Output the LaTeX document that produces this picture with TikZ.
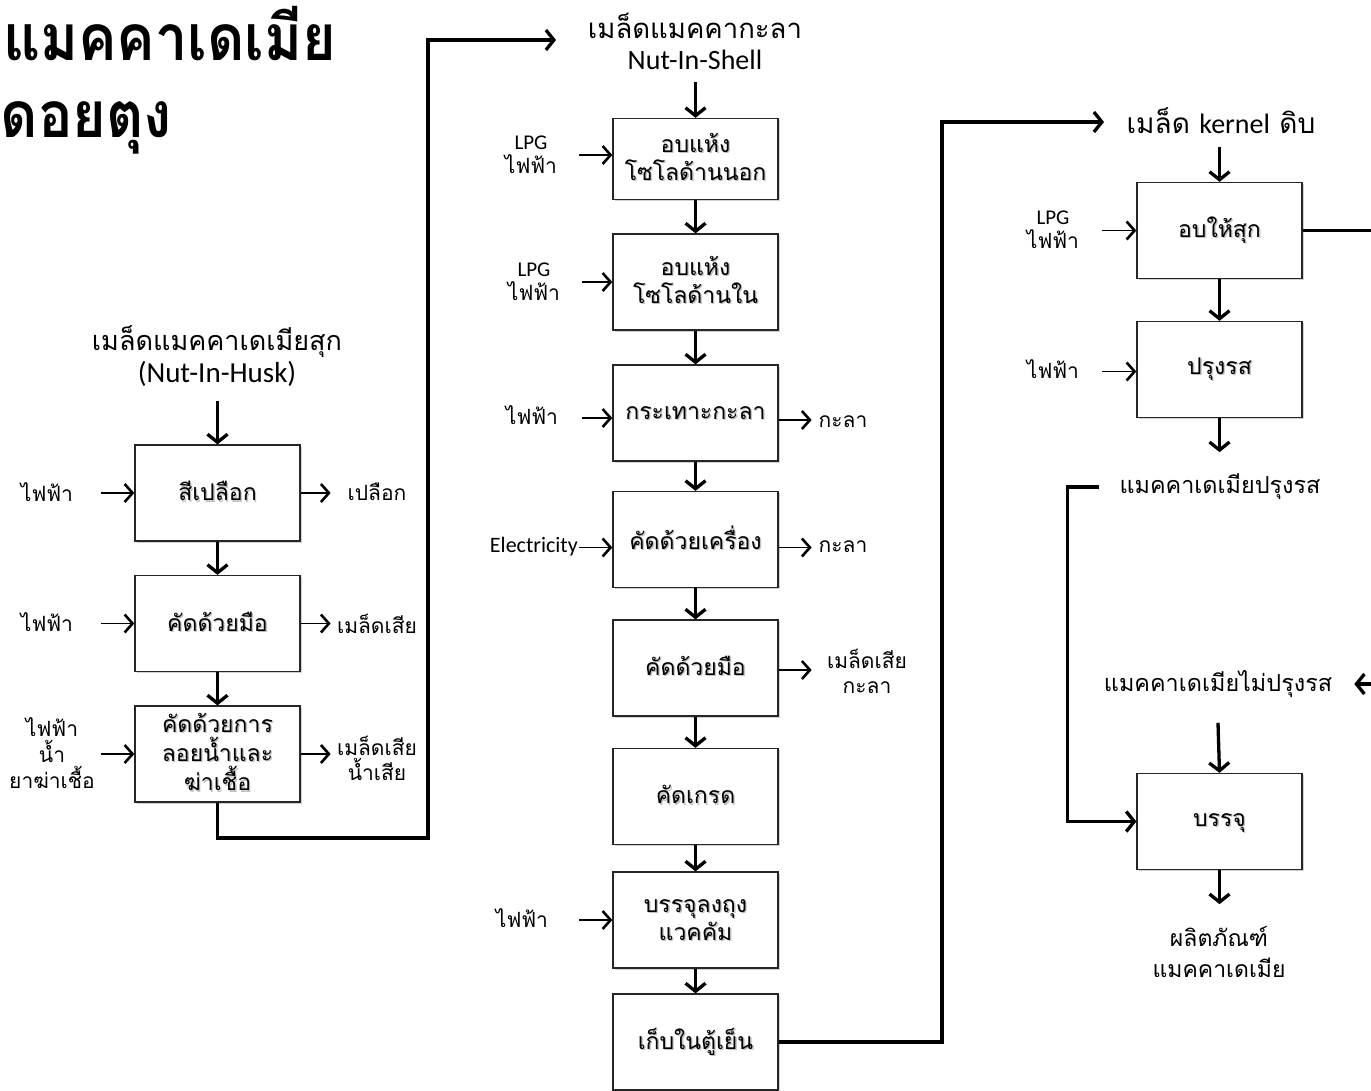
\documentclass[tikz,border=0pt]{standalone}
\usepackage{fontspec}
\setmainfont{Carlito}
\newfontfamily\thaifont[Script=Thai]{Loma}
\newfontfamily\latfont{Carlito}
\newcommand{\lat}[1]{{\latfont #1}}
\newcommand{\bstrut}{\rule[-4pt]{0pt}{21pt}}
\newcommand{\sh}[1]{\bstrut\rlap{\kern1.3pt\raisebox{-1.3pt}{\textcolor{black!25}{#1}}}#1}
\usetikzlibrary{arrows.meta,shadows}
\begin{document}
\begin{tikzpicture}[x=1pt,y=-1pt,
  box/.style={draw=black!85, line width=1.3pt, fill=white, minimum width=165pt, minimum height=96pt,
    align=center, inner sep=0pt, font=\thaifont\fontsize{23}{28}\selectfont,
    drop shadow={shadow xshift=1.5pt, shadow yshift=-1.5pt, opacity=0.3, fill=black!60}},
  lab/.style={font=\thaifont\fontsize{21}{25}\selectfont, align=center, inner sep=0pt},
  head/.style={font=\thaifont\fontsize{23.4}{31}\selectfont, align=center, inner sep=0pt},
  flow/.style={line width=3.3pt, -{Straight Barb[length=8pt,width=20pt]}},
  flowR/.style={line width=3.3pt, {Straight Barb[length=8pt,width=20pt]}-},
  inarr/.style={line width=1.9pt, -{Straight Barb[length=8pt,width=18pt,line width=2.6pt]}},
  inarrR/.style={line width=1.9pt, {Straight Barb[length=8pt,width=18pt,line width=2.6pt]}-},
  wire/.style={line width=3.5pt},
  ttl/.style={anchor=base west, inner sep=0pt, font=\thaifont\bfseries\fontsize{64}{66}\selectfont}]
\useasboundingbox (0,0) rectangle (1371,1090);
\clip (0,0) rectangle (1371,1090);

% title
\node[ttl] (t1) at (3,60) {\scalebox{0.9}[1]{แมคคาเดเมีย}};
\node[ttl] (t2) at (0.5,137) {\scalebox{0.9}[1]{ดอยตุง}};

% ---------- left column ----------
\node[head, font=\thaifont\fontsize{27}{32}\selectfont] (h1) at (217,356) {เมล็ดแมคคาเดเมียสุก\\{\latfont\fontsize{29}{32}\selectfont (Nut-In-Husk)}};
\node[box] (b1) at (217.5,493) {\sh{สีเปลือก}};
\node[box] (b2) at (217.5,623.5) {\sh{คัดด้วยมือ}};
\node[box] (b3) at (217.5,754) {\sh{คัดด้วยการ}\\\sh{ลอยน้ำและ}\\\sh{ฆ่าเชื้อ}};
\draw[flowR] (b1.north) -- ++(0,-43);
\draw[flow] (b1) -- (b2);
\draw[flow] (b2) -- (b3);
\draw[inarrR] (b1.west) -- ++(-33,0);
\node[lab] (i1) at (47,492) {ไฟฟ้า};
\draw[inarr] (b1.east) -- ++(30,0);
\node[lab] (o1) at (377,492) {เปลือก};
\draw[inarrR] (b2.west) -- ++(-33,0);
\node[lab] (i2) at (47,622) {ไฟฟ้า};
\draw[inarr] (b2.east) -- ++(30,0);
\node[lab] (o2) at (377,624) {เมล็ดเสีย};
\draw[inarrR] (b3.west) -- ++(-33,0);
\node[lab, font=\thaifont\fontsize{21}{26}\selectfont] (i3) at (52,753) {ไฟฟ้า\\น้ำ\\ยาฆ่าเชื้อ};
\draw[inarr] (b3.east) -- ++(30,0);
\node[lab, font=\thaifont\fontsize{21}{25}\selectfont] (o3) at (377,758) {เมล็ดเสีย\\น้ำเสีย};

% ---------- middle column ----------
\node[head, font=\thaifont\fontsize{27.5}{31}\selectfont] (h2) at (695,41) {เมล็ดแมคคากะลา\\{\latfont\fontsize{28}{31}\selectfont Nut-In-Shell}};
\node[box, minimum height=81pt] (m1) at (695.5,159) {\sh{อบแห้ง}\\\sh{โซโลด้านนอก}};
\node[box] (m2) at (695.5,282) {\sh{อบแห้ง}\\\sh{โซโลด้านใน}};
\node[box] (m3) at (695.5,413) {\sh{กระเทาะกะลา}};
\node[box] (m4) at (695.5,539.5) {\sh{คัดด้วยเครื่อง}};
\node[box] (m5) at (695.5,668) {\sh{คัดด้วยมือ}};
\node[box] (m6) at (695.5,796.5) {\sh{คัดเกรด}};
\node[box] (m7) at (695.5,920) {\sh{บรรจุลงถุง}\\\sh{แวคคัม}};
\node[box] (m8) at (695.5,1042) {\sh{เก็บในตู้เย็น}};
\draw[flowR] (m1.north) -- ++(0,-36);
\draw[flow] (m1) -- (m2);
\draw[flow] (m2) -- (m3);
\draw[flow] (m3) -- (m4);
\draw[flow] (m4) -- (m5);
\draw[flow] (m5) -- (m6);
\draw[flow] (m6) -- (m7);
\draw[flow] (m7) -- (m8);

\draw[inarrR] (m1.west) ++(0,-4) -- ++(-33,0);
\node[lab, font=\latfont\fontsize{21}{24}\selectfont] (im1) at (531,155) {LPG\\{\thaifont ไฟฟ้า}};
\draw[inarrR] (m2.west) -- ++(-30,0);
\node[lab, font=\latfont\fontsize{21}{24}\selectfont] (im2) at (534,282) {LPG\\{\thaifont ไฟฟ้า}};
\draw[inarrR] (m3.west) ++(0,5) -- ++(-30,0);
\node[lab] (im3) at (532,415) {ไฟฟ้า};
\draw[inarr] (m3.east) ++(0,7) -- ++(33,0);
\node[lab] (om3) at (843,422) {กะลา};
\draw[inarrR] (m4.west) ++(0,8) -- ++(-33,0);
\node[lab, font=\latfont\fontsize{22}{24}\selectfont, anchor=east] (im4) at (578,547) {Electricity};
\draw[inarr] (m4.east) ++(0,8) -- ++(33,0);
\node[lab] (om4) at (843,547) {กะลา};
\draw[inarr] (m5.east) ++(0,2) -- ++(33,0);
\node[lab] (om5) at (867,671) {เมล็ดเสีย\\กะลา};
\draw[inarrR] (m7.west) -- ++(-33,0);
\node[lab] (im7) at (522,918) {ไฟฟ้า};

% ---------- right column ----------
\node[head, font=\thaifont\fontsize{28}{32}\selectfont] (h3) at (1221,121) {เมล็ด {\latfont kernel} ดิบ};
\node[box] (r1) at (1219.5,230.5) {\sh{อบให้สุก}};
\node[box] (r2) at (1219.5,369.5) {\sh{ปรุงรส}};
\node[box] (r3) at (1219.5,821.5) {\sh{บรรจุ}};
\draw[flowR] (r1.north) -- ++(0,-35);
\draw[flow] (r1) -- (r2);
\draw[flow] (r2.south) -- ++(0,34);
\draw[inarrR] (r1.west) -- ++(-34,0);
\node[lab, font=\latfont\fontsize{21}{24}\selectfont] (ir1) at (1053,230) {LPG\\{\thaifont ไฟฟ้า}};
\draw[inarrR] (r2.west) ++(0,2) -- ++(-34,0);
\node[lab] (ir2) at (1053,369) {ไฟฟ้า};
\node[head, inner xsep=20pt] (p1) at (1220,487) {แมคคาเดเมียปรุงรส};
\node[head, inner xsep=22pt] (p2) at (1218,684) {แมคคาเดเมียไม่ปรุงรส};
\coordinate (offr) at (1400,684);
\draw[flow] (offr) -- (p2.east);
\draw[flow] (p2.south) ++(0,25) -- (r3.north);
\draw[flow] (p1.west) -- ++(-32,0) |- (r3.west);
\draw[flow] (r3.south) -- ++(0,34);
\node[head, font=\thaifont\fontsize{23}{31}\selectfont] (prod) at (1219,952) {ผลิตภัณฑ์\\แมคคาเดเมีย};
\coordinate (offr1) at (1400,230.5);
\draw[wire] (r1.east) -- (offr1);

% ---------- connectors between columns ----------
\coordinate (c1) at (556,40);
\draw[flow] (b3.south) |- (428,838) -- (428,40) -- (c1);
\coordinate (c2) at (1104,122);
\draw[flow] (m8.east) -- (942,1042) -- (942,122) -- (c2);
\end{tikzpicture}
\end{document}
